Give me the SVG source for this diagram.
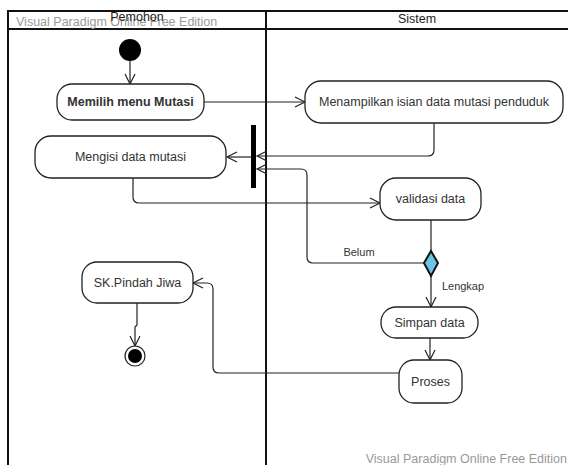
<svg xmlns="http://www.w3.org/2000/svg" width="568" height="465" viewBox="0 0 568 465">
<style>
.lane{fill:none;stroke:#111;stroke-width:2}
.act{fill:#fff;stroke:#222;stroke-width:1.3}
.t{font-family:"Liberation Sans",Arial,sans-serif;font-size:12.5px;fill:#333;text-anchor:middle}
.wm{font-family:"Liberation Sans",Arial,sans-serif;font-size:12.5px;fill:#999}
.c{fill:none;stroke:#222;stroke-width:1.2}
</style>
<defs>
<marker id="arr" markerUnits="userSpaceOnUse" markerWidth="14" markerHeight="14" refX="11" refY="6" orient="auto">
<path d="M1,1 L11,6 L1,11" fill="none" stroke="#222" stroke-width="1.2"/>
</marker>
</defs>
<rect width="568" height="465" fill="#fff"/>
<g id="swimlanes">
<path class="lane" d="M8,470 L8,11 L570,11 M8,29 L570,29 M266,11 L266,470"/>
<text class="wm" x="16" y="26">Visual Paradigm Online Free Edition</text>
<text class="t" x="137" y="21" style="fill:#222">Pemohon</text>
<text class="t" x="417" y="23" style="fill:#222">Sistem</text>
</g>
<g id="connectors">
<path class="c" marker-end="url(#arr)" d="M130,61 L130,84"/>
<path class="c" marker-end="url(#arr)" d="M204,102 L305,102"/>
<path class="c" marker-end="url(#arr)" d="M434,123 L434,150 Q434,156 428,156 L257,156"/>
<path class="c" marker-end="url(#arr)" d="M251,157 L227,157"/>
<path class="c" marker-end="url(#arr)" d="M133,178 L133,197 Q133,203 139,203 L380,203"/>
<path class="c" d="M431,220 L431,251"/>
<path class="c" marker-end="url(#arr)" d="M424,263 L313,263 Q307,263 307,257 L307,175 Q307,169 301,169 L257,169"/>
<path class="c" marker-end="url(#arr)" d="M431,276 L431,307"/>
<path class="c" marker-end="url(#arr)" d="M430,338 L430,360"/>
<path class="c" marker-end="url(#arr)" d="M399,373 L219,373 Q213,373 213,367 L213,289 Q213,283 207,283 L193,283"/>
<path class="c" marker-end="url(#arr)" d="M137,303 L137,325 L135,327 L135,346"/>
<text class="t" x="359" y="256" style="font-size:11px">Belum</text>
<text class="t" x="463" y="290" style="font-size:11px">Lengkap</text>
</g>
<g id="start"><circle cx="130" cy="50" r="11" fill="#000"/></g>
<g id="memilih"><rect class="act" x="57" y="84" width="147" height="36" rx="15"/><text class="t" x="130.5" y="106" style="font-weight:bold">Memilih menu Mutasi</text></g>
<g id="menampilkan"><rect class="act" x="305" y="81" width="258" height="42" rx="16"/><text class="t" x="434" y="106">Menampilkan isian data mutasi penduduk</text></g>
<g id="mengisi"><rect class="act" x="35" y="136" width="191" height="42" rx="16"/><text class="t" x="130.5" y="161">Mengisi data mutasi</text></g>
<g id="fork"><rect x="251" y="125" width="5" height="63" fill="#000"/></g>
<g id="validasi"><rect class="act" x="380" y="178" width="101" height="42" rx="16"/><text class="t" x="430.5" y="203">validasi data</text></g>
<g id="decision"><path d="M431,251 L438,263 L431,276 L424,263 Z" fill="#6cc4e6" stroke="#111" stroke-width="2"/></g>
<g id="simpan"><rect class="act" x="381" y="307" width="97" height="31" rx="15"/><text class="t" x="429.5" y="327">Simpan data</text></g>
<g id="proses"><rect class="act" x="399" y="360" width="63" height="43" rx="15"/><text class="t" x="430.5" y="386">Proses</text></g>
<g id="sk"><rect class="act" x="82" y="262" width="111" height="41" rx="15"/><text class="t" x="137.5" y="287">SK.Pindah Jiwa</text></g>
<g id="end"><circle cx="135" cy="356" r="10" fill="#fff" stroke="#222" stroke-width="1.2"/><circle cx="135" cy="356" r="7" fill="#000"/></g>
<text class="wm" x="567" y="463" style="text-anchor:end">Visual Paradigm Online Free Edition</text>
</svg>
